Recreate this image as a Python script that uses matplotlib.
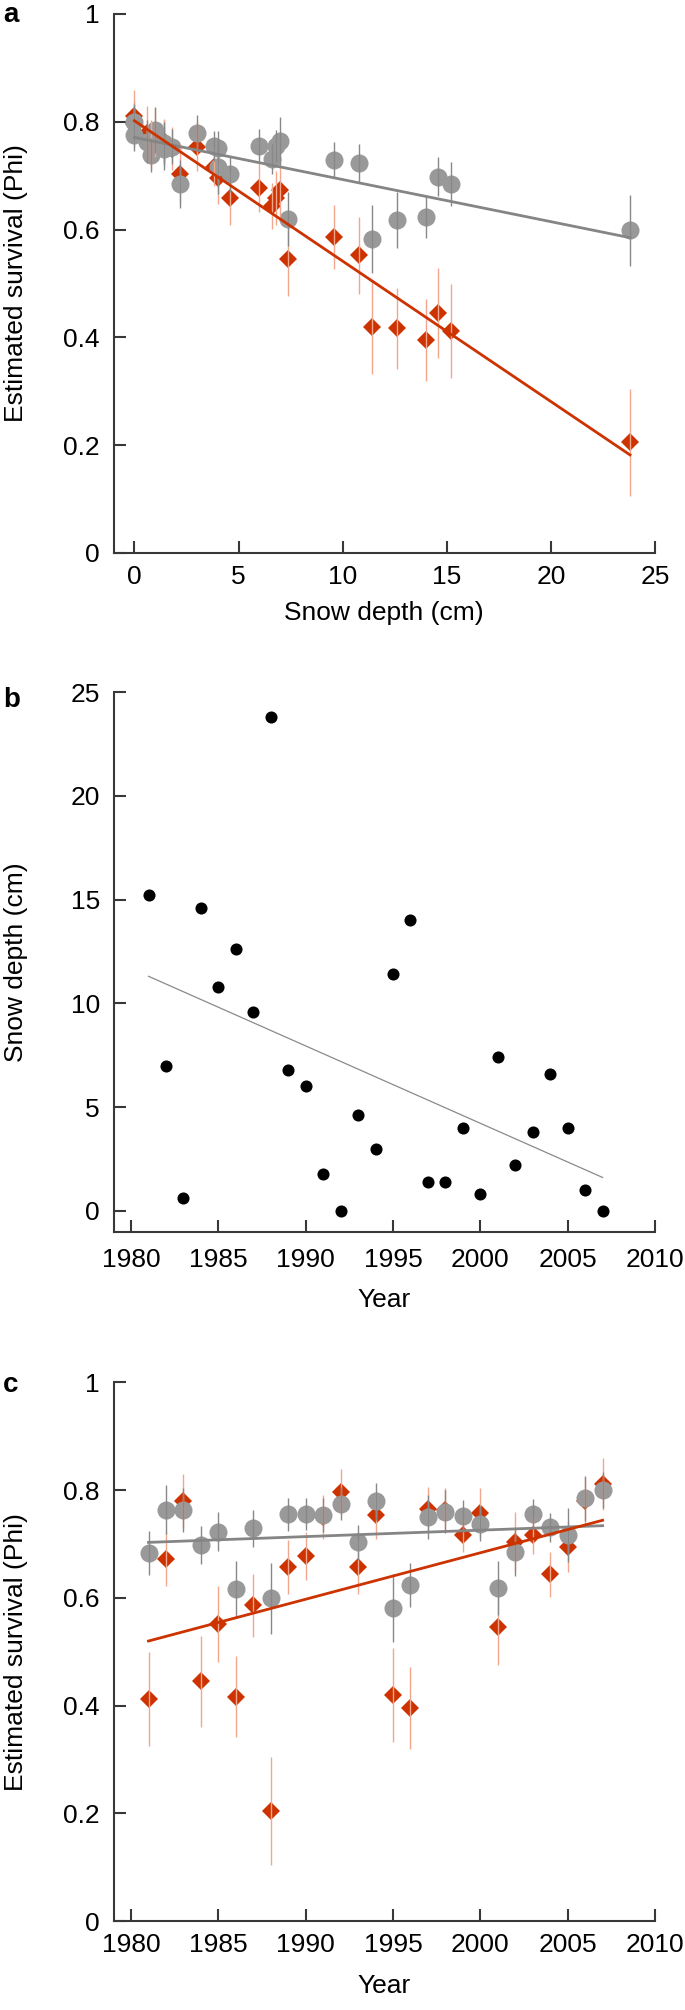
import matplotlib
matplotlib.use("Agg")
import matplotlib.pyplot as plt
import numpy as np

plt.rcParams['font.family'] = ['Liberation Sans', 'DejaVu Sans']

years = np.arange(1981, 2008)
snow_depth = [15.2, 7.0, 0.6, 14.6, 10.8, 12.6, 9.6, 23.8, 6.8, 6.0, 1.8, 0.0, 4.6, 3.0,
              11.4, 14.0, 1.4, 1.4, 4.0, 0.8, 7.4, 2.2, 3.8, 6.6, 4.0, 1.0, 0.0]
gray_phi = [0.684, 0.764, 0.763, 0.698, 0.723, 0.617, 0.729, 0.599, 0.755, 0.756, 0.754,
            0.775, 0.703, 0.779, 0.582, 0.624, 0.750, 0.760, 0.752, 0.738, 0.619, 0.685,
            0.755, 0.731, 0.716, 0.785, 0.800]
gray_err = [0.041, 0.045, 0.040, 0.036, 0.036, 0.052, 0.034, 0.066, 0.030, 0.030, 0.032,
            0.030, 0.033, 0.034, 0.063, 0.040, 0.040, 0.040, 0.030, 0.032, 0.050, 0.045,
            0.028, 0.027, 0.050, 0.042, 0.033]
red_phi = [0.412, 0.673, 0.780, 0.445, 0.552, 0.417, 0.586, 0.205, 0.658, 0.678, 0.750,
           0.796, 0.658, 0.754, 0.420, 0.395, 0.765, 0.763, 0.716, 0.758, 0.546, 0.704,
           0.716, 0.644, 0.695, 0.780, 0.811]
red_err = [0.087, 0.050, 0.050, 0.084, 0.071, 0.075, 0.059, 0.100, 0.050, 0.045, 0.040,
           0.043, 0.050, 0.045, 0.087, 0.076, 0.040, 0.040, 0.030, 0.045, 0.070, 0.055,
           0.035, 0.042, 0.047, 0.045, 0.048]

# fitted trend lines: (value at start, value at end)
trend_a_gray = (0.771, 0.585)   # snow depth 0 -> 23.8
trend_a_red = (0.802, 0.182)
trend_c_gray = (0.703, 0.734)   # year 1981 -> 2007
trend_c_red = (0.520, 0.744)

RED = '#cc3300'
RED_ERR = '#f2a68c'
GRAY = '#999999'
GRAY_ERR = '#888888'
GRAY_LINE = '#858585'
SPINE = '#383838'
FS = 19

fig = plt.figure(figsize=(6.85, 20.10), dpi=100)
L, W = 0.1658, 0.7904
ax_a = fig.add_axes([L, 0.72488, W, 0.26816])
ax_b = fig.add_axes([L, 0.38721, W, 0.26851])
ax_c = fig.add_axes([L, 0.04413, W, 0.26816])


def style(ax, xpad):
    for s in ['top', 'right']:
        ax.spines[s].set_visible(False)
    for s in ['left', 'bottom']:
        ax.spines[s].set_color(SPINE)
        ax.spines[s].set_linewidth(1.5)
    ax.tick_params(direction='in', length=8.5, width=1.5, color=SPINE,
                   labelsize=FS)
    ax.tick_params(axis='y', pad=9.8)
    ax.tick_params(axis='x', pad=xpad)


def survival_panel(ax, x, xline, trend_g, trend_r):
    ax.plot(x, red_phi, linestyle='none', marker='D', ms=9.3, color=RED,
            markeredgewidth=0, zorder=2)
    ax.plot(x, gray_phi, linestyle='none', marker='o', ms=13, color=GRAY,
            markeredgewidth=0, zorder=3)
    ax.errorbar(x, red_phi, yerr=red_err, fmt='none', ecolor=RED_ERR, elinewidth=1.0,
                zorder=4)
    ax.errorbar(x, gray_phi, yerr=gray_err, fmt='none', ecolor=GRAY_ERR, elinewidth=1.0,
                zorder=4)
    ax.plot(xline, trend_g, color=GRAY_LINE, lw=2.0, zorder=5)
    ax.plot(xline, trend_r, color=RED, lw=2.0, zorder=5)
    ax.set_ylim(0, 1)
    ax.set_yticks([0, 0.2, 0.4, 0.6, 0.8, 1])
    ax.set_yticklabels(['0', '0.2', '0.4', '0.6', '0.8', '1'])
    ax.set_ylabel('Estimated survival (Phi)', fontsize=FS)


# Panel a
survival_panel(ax_a, snow_depth, [min(snow_depth), max(snow_depth)], trend_a_gray, trend_a_red)
ax_a.set_xlim(-1, 25)
ax_a.set_xticks([0, 5, 10, 15, 20, 25])
ax_a.set_xlabel('Snow depth (cm)', fontsize=FS, labelpad=8.7)
style(ax_a, 8.6)

# Panel b
ax_b.plot(years, snow_depth, linestyle='none', marker='o', ms=8.7, color='black',
          markeredgewidth=0, zorder=3)
coef = np.polyfit(years, snow_depth, 1)
yl = np.array([years.min(), years.max()])
ax_b.plot(yl, np.polyval(coef, yl), color='#8a8a8a', lw=0.9, zorder=2)
ax_b.set_xlim(1979, 2010)
ax_b.set_ylim(-1, 25)
ax_b.set_xticks([1980, 1985, 1990, 1995, 2000, 2005, 2010])
ax_b.set_yticks([0, 5, 10, 15, 20, 25])
ax_b.set_xlabel('Year', fontsize=FS, labelpad=11.8)
ax_b.set_ylabel('Snow depth (cm)', fontsize=FS)
style(ax_b, 11.5)

# Panel c
survival_panel(ax_c, years, [years.min(), years.max()], trend_c_gray, trend_c_red)
ax_c.set_xlim(1979, 2010)
ax_c.set_xticks([1980, 1985, 1990, 1995, 2000, 2005, 2010])
ax_c.set_xlabel('Year', fontsize=FS, labelpad=11.8)
style(ax_c, 8.6)

for ax in (ax_a, ax_b, ax_c):
    ax.yaxis.set_label_coords(-0.158, 0.5)

# panel letters
fig.text(3 / 685, 1 - 22 / 2010, 'a', fontsize=20, fontweight='bold', va='baseline')
fig.text(3 / 685, 1 - 707 / 2010, 'b', fontsize=20, fontweight='bold', va='baseline')
fig.text(3 / 685, 1 - 1392 / 2010, 'c', fontsize=20, fontweight='bold', va='baseline')

fig.savefig('out.png', dpi=100)
